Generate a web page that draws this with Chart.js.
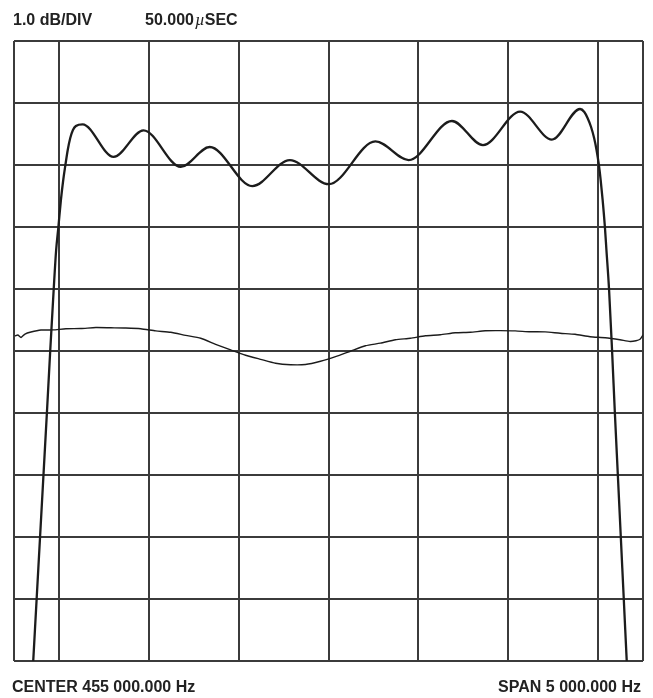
<!DOCTYPE html>
<html>
<head>
<meta charset="utf-8">
<title>Filter response</title>
<script src="https://cdn.jsdelivr.net/npm/chart.js@4.4.1/dist/chart.umd.min.js"></script>
<style>
  html, body { margin: 0; padding: 0; background: #ffffff; }
  #plot { display: block; }
</style>
</head>
<body>
<canvas id="plot" width="653" height="698"></canvas>
<script>
// Horizontal position in graticule divisions from the centre frequency
const ampX = [-3.286, -3.248, -3.210, -3.172, -3.134, -3.097, -3.058, -3.031, -3.006, -2.978,
              -2.952, -2.928, -2.902, -2.874, -2.844, -2.811, -2.737,
              -2.392, -2.059, -1.644, -1.322, -0.848, -0.430, 0.003, 0.522,
              0.892, 1.374, 1.719, 2.133, 2.486, 2.800,
              2.847, 2.883, 2.922, 2.956, 2.983, 3.009, 3.029, 3.051, 3.076, 3.093,
              3.122, 3.156, 3.187, 3.220, 3.253, 3.286, 3.319];
// Amplitude response, dB (top line = 0 dB, 1 dB per division)
const ampDb = [-10.0, -9.0, -8.0, -7.0, -6.0, -5.0, -4.0, -3.371, -3.0, -2.565,
               -2.242, -2.0, -1.758, -1.565, -1.435, -1.371, -1.344,
               -1.87, -1.44, -2.03, -1.71, -2.34, -1.92, -2.31, -1.62,
               -1.92, -1.29, -1.68, -1.14, -1.59, -1.097,
               -1.145, -1.242, -1.387, -1.565, -1.758, -2.0, -2.242, -2.565, -3.0, -3.371,
               -4.0, -5.0, -6.0, -7.0, -8.0, -9.0, -10.0];

// Group delay trace, µs (50 µs per division, bottom line = 0 µs)
const delayX = [-3.489, -3.456, -3.422, -3.378, -3.311, -3.200, -3.067, -2.922, -2.756, -2.589,
                -2.422, -2.256, -2.089, -1.922, -1.756, -1.589, -1.422, -1.256, -1.089, -0.922,
                -0.756, -0.589, -0.422, -0.256, -0.089, 0.078, 0.244, 0.411, 0.578, 0.744,
                0.911, 1.078, 1.244, 1.411, 1.578, 1.744, 1.911, 2.078, 2.244, 2.411,
                2.578, 2.744, 2.911, 3.078, 3.244, 3.356, 3.422, 3.467, 3.500];
const delayUs = [262.1, 262.9, 260.9, 263.7, 265.3, 266.9, 267.0, 267.9, 268.1, 268.9,
                 268.7, 268.5, 267.9, 266.2, 265.1, 262.6, 260.3, 255.4, 250.9, 246.6,
                 243.3, 240.1, 238.9, 239.1, 241.7, 245.4, 249.8, 254.2, 256.3, 259.1,
                 260.3, 262.3, 263.1, 264.7, 265.1, 266.3, 266.4, 266.2, 265.5, 265.4,
                 264.3, 263.5, 261.5, 260.7, 259.1, 257.7, 258.3, 259.5, 262.9];

// Graticule: vertical lines every division, half divisions at both edges
const xGridTicks = [-3.5, -3, -2, -1, 0, 1, 2, 3, 3.5];

const headerScale = '1.0 dB/DIV';
const headerSweepValue = '50.000';
const headerSweepMu = 'µ';
const headerSweepUnit = 'SEC';
const footerCenter = 'CENTER 455 000.000 Hz';
const footerSpan = 'SPAN 5 000.000 Hz';

const toPoints = (xs, ys) => xs.map((x, i) => ({ x: x, y: ys[i] }));

const gridColor = '#3b3b3b';
const inkColor = '#1c1c1c';

// Instrument annotations above and below the graticule
const annotations = {
  id: 'annotations',
  afterDraw(chart) {
    const ctx = chart.ctx;
    ctx.save();
    ctx.fillStyle = '#222222';
    ctx.textBaseline = 'alphabetic';
    const bold = 'bold 16px "Liberation Sans", Arial, sans-serif';
    ctx.font = bold;
    ctx.textAlign = 'left';
    ctx.fillText(headerScale, 13, 25);

    let x = 145;
    ctx.fillText(headerSweepValue, x, 25);
    x += ctx.measureText(headerSweepValue).width + 1;
    ctx.font = 'italic 17px "Liberation Serif", serif';
    ctx.fillText(headerSweepMu, x, 25);
    x += ctx.measureText(headerSweepMu).width;
    ctx.font = bold;
    ctx.fillText(headerSweepUnit, x, 25);

    ctx.fillText(footerCenter, 12, 692);
    ctx.textAlign = 'right';
    ctx.fillText(footerSpan, 641, 692);
    ctx.restore();
  }
};

new Chart(document.getElementById('plot'), {
  type: 'line',
  data: {
    datasets: [
      {
        label: 'Amplitude',
        data: toPoints(ampX, ampDb),
        yAxisID: 'y',
        borderColor: inkColor,
        borderWidth: 2.3,
        pointRadius: 0,
        fill: false,
        cubicInterpolationMode: 'monotone'
      },
      {
        label: 'Group delay',
        data: toPoints(delayX, delayUs),
        yAxisID: 'yDelay',
        borderColor: inkColor,
        borderWidth: 1.4,
        pointRadius: 0,
        fill: false,
        tension: 0.2
      }
    ]
  },
  options: {
    responsive: false,
    animation: false,
    events: [],
    layout: { padding: { left: 14, right: 10, top: 41, bottom: 37 } },
    plugins: {
      legend: { display: false },
      tooltip: { enabled: false },
      title: { display: false }
    },
    scales: {
      x: {
        type: 'linear',
        min: -3.5,
        max: 3.5,
        afterBuildTicks(axis) {
          axis.ticks = xGridTicks.map(v => ({ value: v }));
        },
        ticks: { display: false },
        grid: { color: gridColor, lineWidth: 2, drawTicks: false },
        border: { display: false }
      },
      y: {
        type: 'linear',
        position: 'left',
        min: -10,
        max: 0,
        ticks: { display: false, stepSize: 1 },
        grid: { color: gridColor, lineWidth: 2, drawTicks: false },
        border: { display: false }
      },
      yDelay: {
        type: 'linear',
        position: 'right',
        min: 0,
        max: 500,
        display: false
      }
    }
  },
  plugins: [annotations]
});
</script>
</body>
</html>
